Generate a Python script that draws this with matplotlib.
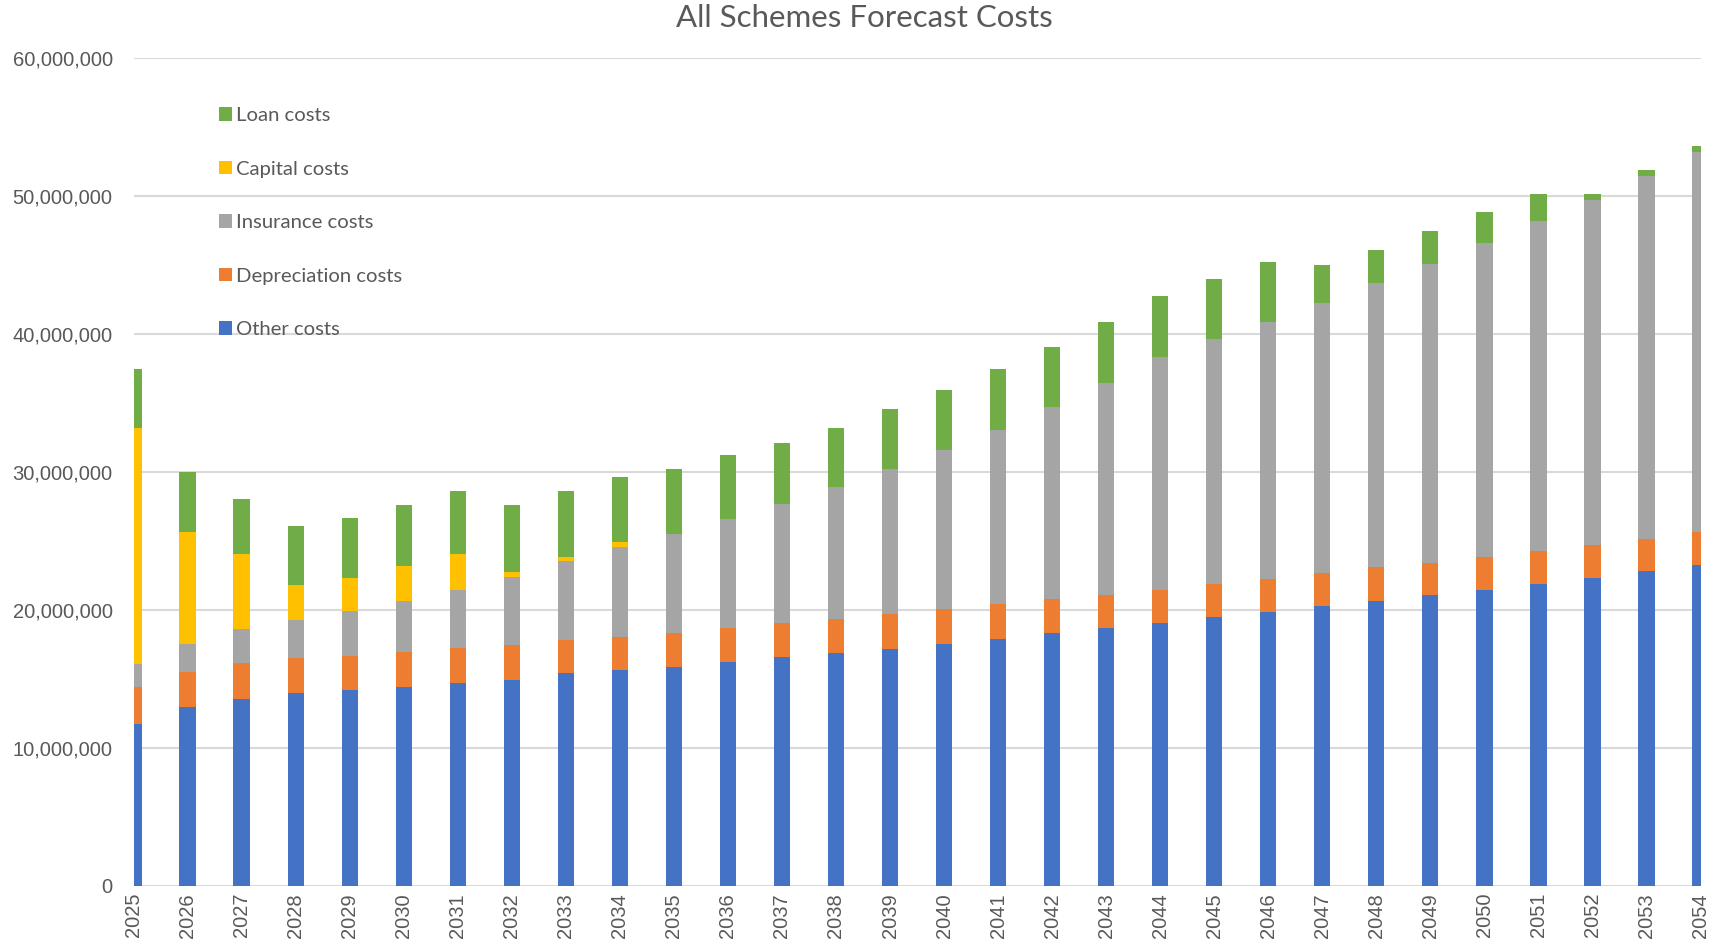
import numpy as np
import matplotlib
matplotlib.use("Agg")
import matplotlib.pyplot as plt
from matplotlib.ticker import FuncFormatter

plt.rcParams['font.family'] = ['Lato', 'DejaVu Sans']

years = [str(y) for y in range(2025, 2055)]

# values, in millions
other = [11.75, 12.96, 13.58, 14.00, 14.21, 14.43, 14.69, 14.96, 15.40, 15.65,
         15.89, 16.26, 16.59, 16.86, 17.20, 17.56, 17.90, 18.33, 18.67, 19.04,
         19.47, 19.82, 20.26, 20.62, 21.06, 21.47, 21.91, 22.35, 22.79, 23.23]
depreciation = [2.68, 2.51, 2.59, 2.53, 2.49, 2.54, 2.52, 2.52, 2.44, 2.42,
                2.44, 2.44, 2.44, 2.51, 2.53, 2.51, 2.53, 2.44, 2.44, 2.41,
                2.41, 2.40, 2.41, 2.46, 2.38, 2.40, 2.39, 2.39, 2.38, 2.45]
insurance = [1.67, 2.10, 2.44, 2.76, 3.20, 3.70, 4.25, 4.93, 5.71, 6.50,
             7.20, 7.87, 8.68, 9.54, 10.49, 11.52, 12.64, 13.94, 15.33, 16.88,
             17.78, 18.64, 19.59, 20.58, 21.62, 22.72, 23.86, 24.98, 26.28, 27.50]
capital = [17.12, 8.05, 5.44, 2.51, 2.43, 2.53, 2.59, 0.34, 0.26, 0.36,
           0, 0, 0, 0, 0, 0, 0, 0, 0, 0,
           0, 0, 0, 0, 0, 0, 0, 0, 0, 0]
loan = [4.21, 4.40, 3.99, 4.26, 4.33, 4.40, 4.59, 4.85, 4.83, 4.73,
        4.66, 4.66, 4.37, 4.30, 4.32, 4.33, 4.39, 4.32, 4.40, 4.41,
        4.33, 4.35, 2.77, 2.42, 2.39, 2.26, 1.99, 0.43, 0.43, 0.46]

series = [
    ("Other costs", other, "#4472C4"),
    ("Depreciation costs", depreciation, "#ED7D31"),
    ("Insurance costs", insurance, "#A5A5A5"),
    ("Capital costs", capital, "#FFC000"),
    ("Loan costs", loan, "#70AD47"),
]

fig = plt.figure(figsize=(17.16, 9.51), dpi=100)
ax = fig.add_axes([0.0778, 0.0684, 0.9132, 0.8706])

x = np.arange(len(years))
bottom = np.zeros(len(years))
handles = []
for name, vals, col in series:
    v = np.array(vals) * 1e6
    b = ax.bar(x, v, width=0.3, bottom=bottom, color=col, label=name, zorder=2)
    handles.append(b)
    bottom += v

ax.set_xlim(0, len(years) - 1)
ax.set_ylim(0, 60e6)
ax.set_yticks(np.arange(0, 60e6 + 1, 10e6))
ax.yaxis.set_major_formatter(FuncFormatter(lambda v, p: f"{v:,.0f}"))
ax.set_xticks(x)
ax.set_xticklabels(years, rotation=90)
ax.yaxis.grid(True, color="#D9D9D9", linewidth=1.5)
ax.set_axisbelow(True)
for s in ax.spines.values():
    s.set_visible(False)
ax.tick_params(axis="both", length=0, colors="#595959", labelsize=14.5)
ax.tick_params(axis="y", pad=15)
ax.tick_params(axis="x", pad=5)
for lab in ax.get_xticklabels() + ax.get_yticklabels():
    lab.set_fontfamily("Liberation Sans")

fig.text(0.5035, 0.981, "All Schemes Forecast Costs", ha="center", va="center",
         fontsize=22.5, color="#595959")

ax.legend(handles[::-1], [s[0] for s in series][::-1], loc="upper left",
          bbox_to_anchor=(0.1218, 0.898), bbox_transform=fig.transFigure,
          frameon=False, fontsize=14.6, labelcolor="#595959",
          handlelength=0.65, handleheight=0.65, handletextpad=0.2,
          labelspacing=1.8, borderpad=0)

fig.savefig("out.png", dpi=100)
